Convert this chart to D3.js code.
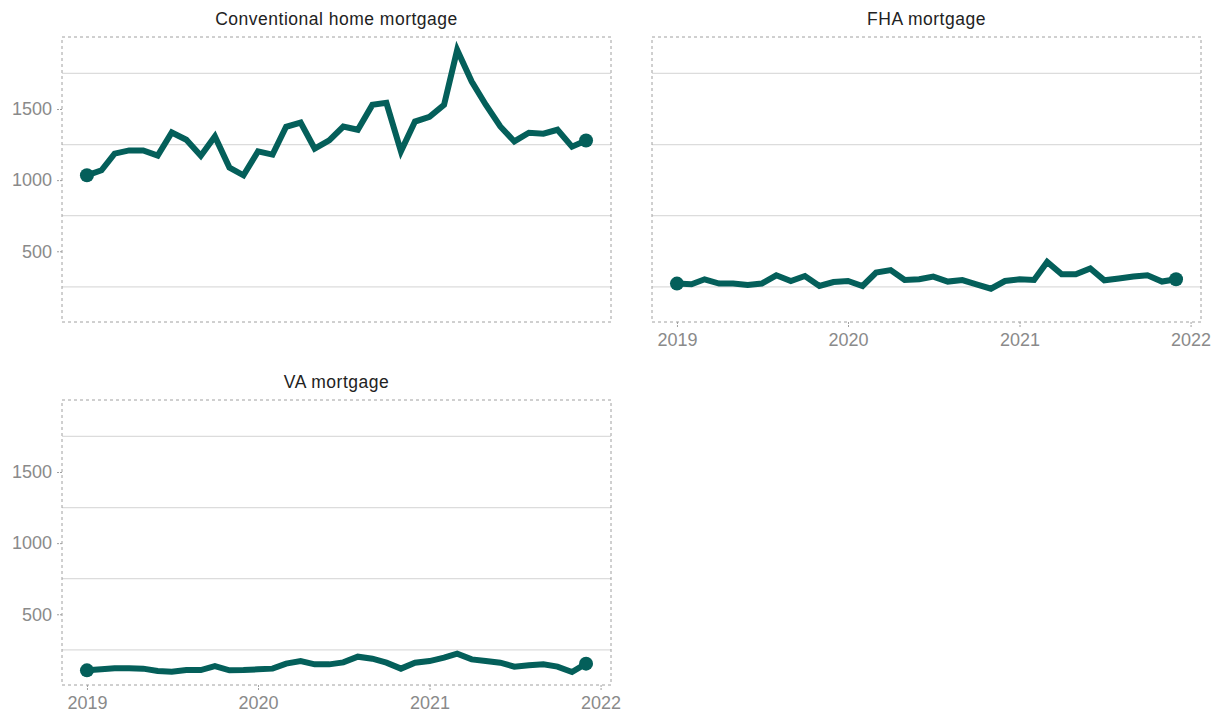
<!DOCTYPE html>
<html>
<head>
<meta charset="utf-8">
<script src="https://cdn.jsdelivr.net/npm/d3@7"></script>
<style>
body{margin:0;background:#fff;}
svg text{font-family:"Liberation Sans",Arial,Helvetica,sans-serif;}
</style>
</head>
<body>
<svg id="chart" width="1221" height="715"></svg>
<script>
const months = d3.range(36).map(i => new Date(2019, i, 1));
const panelTitles = ["Conventional home mortgage", "FHA mortgage", "VA mortgage"];
const conventional = [1034,1069,1186,1209,1209,1172,1335,1284,1172,1307,1088,1034,
  1202,1179,1375,1405,1221,1279,1377,1354,1529,1543,1202,1412,
  1445,1529,1915,1693,1530,1377,1272,1333,1326,1354,1235,1279];
const fha = [273,268,303,273,273,263,273,331,291,326,256,284,
  291,256,350,368,298,303,322,287,298,268,237,291,
  303,298,425,338,338,380,296,308,322,331,287,303];
const va = [106,113,120,120,118,101,96,108,108,136,106,108,
  113,118,153,171,148,148,162,202,188,160,118,160,
  171,195,223,183,171,160,132,141,148,132,94,153];
const yTicks = [500, 1000, 1500];
const yGrid = [250, 750, 1250, 1750];
const xTicks = [new Date(2019,0,1), new Date(2020,0,1), new Date(2021,0,1), new Date(2022,0,1)];
const seriesList = [conventional, fha, va];

const svg = d3.select("#chart");
const W = 549, H = 285;
const panels = [
  {x: 62, y: 37, yAxis: true, xAxis: false},
  {x: 652, y: 37, yAxis: false, xAxis: true},
  {x: 62, y: 400, yAxis: true, xAxis: true}
];
const allVals = conventional.concat(fha, va);
const vmin = d3.min(allVals), vmax = d3.max(allVals);
const pad = (vmax - vmin) * 0.05;
const y = d3.scaleLinear().domain([vmin - pad, vmax + pad]).range([H, 0]);
const t0 = months[0].getTime(), t1 = months[35].getTime();
const tp = (t1 - t0) * 0.05;
const x = d3.scaleTime().domain([new Date(t0 - tp), new Date(t1 + tp)]).range([0, W]);
const color = "#045f5a";
const grey = "#8a8a8a";

panels.forEach((p, k) => {
  const g = svg.append("g").attr("transform", `translate(${p.x},${p.y})`);
  g.selectAll(".grid").data(yGrid).enter().append("line")
    .attr("x1", 0).attr("x2", W).attr("y1", d => y(d)).attr("y2", d => y(d))
    .attr("stroke", "#dcdcdc").attr("stroke-width", 1.3);
  g.append("rect").attr("x", 0).attr("y", 0).attr("width", W).attr("height", H)
    .attr("fill", "none").attr("stroke", "#a0a0a0").attr("stroke-width", 1)
    .attr("stroke-dasharray", "3,3");
  g.append("text").attr("x", W/2).attr("y", -12).attr("text-anchor", "middle")
    .attr("font-size", 17.5).attr("letter-spacing", 0.5).attr("fill", "#222").text(panelTitles[k]);
  if (p.yAxis) {
    const ya = g.append("g").call(d3.axisLeft(y).tickValues(yTicks).tickSize(5).tickPadding(5).tickFormat(d3.format("d")));
    ya.select(".domain").remove();
    ya.selectAll("line").attr("stroke", "#a0a0a0").attr("stroke-dasharray", "2,1");
    ya.selectAll("text").attr("fill", grey).attr("font-size", 18)
      .style("font-family", '"Liberation Sans",Arial,sans-serif');
  }
  if (p.xAxis) {
    const xa = g.append("g").attr("transform", `translate(0,${H})`)
      .call(d3.axisBottom(x).tickValues(xTicks).tickSize(5).tickPadding(6).tickFormat(d3.timeFormat("%Y")));
    xa.select(".domain").remove();
    xa.selectAll("line").attr("stroke", "#a0a0a0").attr("stroke-dasharray", "2,1");
    xa.selectAll("text").attr("fill", grey).attr("font-size", 18)
      .style("font-family", '"Liberation Sans",Arial,sans-serif');
  }
  const data = seriesList[k].map((v, i) => ({d: months[i], v}));
  g.append("path").datum(data)
    .attr("fill", "none").attr("stroke", color).attr("stroke-width", 6)
    .attr("stroke-linejoin", "miter").attr("stroke-linecap", "butt")
    .attr("d", d3.line().x(d => x(d.d)).y(d => y(d.v)));
  g.selectAll(".end").data([data[0], data[data.length-1]]).enter().append("circle")
    .attr("cx", d => x(d.d)).attr("cy", d => y(d.v)).attr("r", 7).attr("fill", color);
});
</script>
</body>
</html>
